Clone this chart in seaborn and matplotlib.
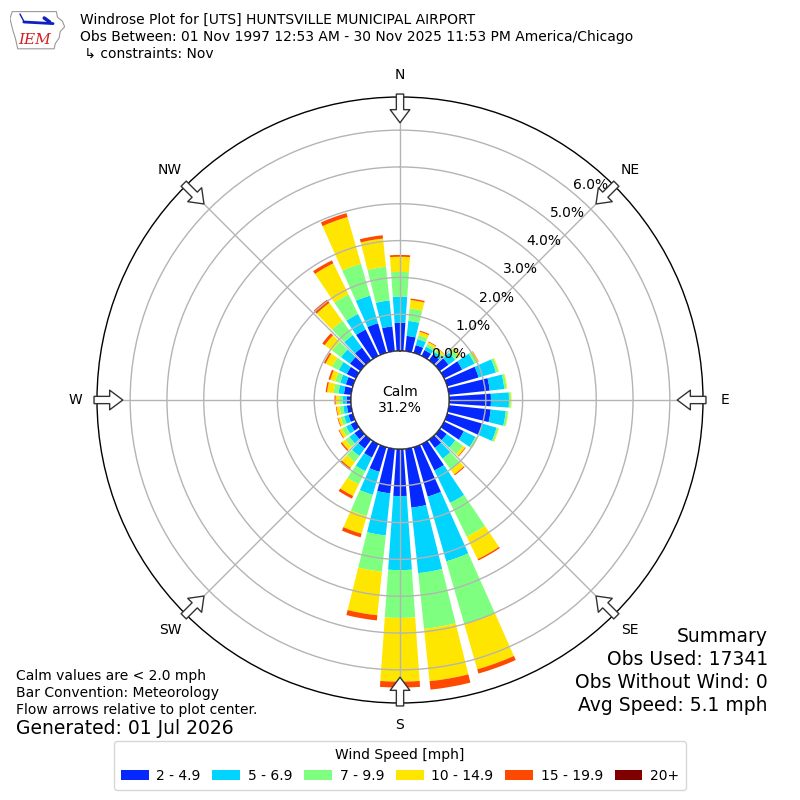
import numpy as np
import matplotlib
matplotlib.use("Agg")
import matplotlib.pyplot as plt
from matplotlib.patches import Circle, Polygon
import seaborn as sns

# direction the wind blows from (deg), 10 degree sectors
directions = list(range(0, 360, 10))

# percent of all observations per speed bin and direction
speed_2_5 = [0.77, 0.42, 0.22, 0.18, 0.20, 0.30, 0.55, 0.89, 1.12, 1.14, 1.15, 0.99,
             0.60, 0.24, 0.28, 0.80, 1.40, 1.61, 1.28, 1.22, 0.70, 0.41, 0.30, 0.20,
             0.16, 0.13, 0.12, 0.12, 0.20, 0.20, 0.28, 0.35, 0.43, 0.80, 0.84, 0.68]
speed_5_7 = [0.71, 0.41, 0.17, 0.10, 0.08, 0.22, 0.37, 0.49, 0.40, 0.49, 0.41, 0.41,
             0.35, 0.29, 0.36, 0.98, 1.83, 1.79, 2.01, 1.15, 0.65, 0.41, 0.25, 0.17,
             0.14, 0.12, 0.10, 0.10, 0.15, 0.16, 0.24, 0.30, 0.42, 0.47, 0.78, 0.71]
speed_7_10 = [0.67, 0.34, 0.11, 0.08, 0.06, 0.13, 0.08, 0.07, 0.06, 0.05, 0.06, 0.05,
              0.05, 0.26, 0.38, 1.02, 1.77, 1.52, 1.30, 0.99, 0.60, 0.40, 0.20, 0.13,
              0.12, 0.10, 0.10, 0.10, 0.13, 0.14, 0.20, 0.30, 0.48, 0.59, 0.90, 0.92]
speed_10_15 = [0.41, 0.23, 0.10, 0.06, 0.06, 0.05, 0.04, 0.02, 0.02, 0.02, 0.01, 0.02,
               0.02, 0.07, 0.15, 0.68, 1.28, 1.43, 1.73, 1.19, 0.50, 0.35, 0.20, 0.12,
               0.09, 0.07, 0.08, 0.10, 0.18, 0.14, 0.20, 0.25, 0.60, 0.94, 1.32, 0.77]
speed_15_20 = [0.05, 0.04, 0.03, 0.02, 0.01, 0.01, 0.01, 0.00, 0.00, 0.00, 0.00, 0.00,
               0.00, 0.02, 0.03, 0.04, 0.12, 0.23, 0.16, 0.14, 0.10, 0.08, 0.06, 0.04,
               0.02, 0.02, 0.02, 0.03, 0.04, 0.05, 0.05, 0.08, 0.11, 0.09, 0.11, 0.09]
speed_20_up = [0.0] * 36

bin_labels = ["2 - 4.9", "5 - 6.9", "7 - 9.9", "10 - 14.9", "15 - 19.9", "20+"]
bin_colors = ["#0528ff", "#00d4ff", "#7fff7f", "#ffe600", "#ff4800", "#800000"]

calm_pct = 31.2
ring_ticks = [0, 1, 2, 3, 4, 5, 6]
compass = ["N", "NE", "E", "SE", "S", "SW", "W", "NW"]

title_lines = [
    "Windrose Plot for [UTS] HUNTSVILLE MUNICIPAL AIRPORT",
    "Obs Between: 01 Nov 1997 12:53 AM - 30 Nov 2025 11:53 PM America/Chicago",
    " \u21b3 constraints: Nov",
]
notes = ["Calm values are < 2.0 mph", "Bar Convention: Meteorology",
         "Flow arrows relative to plot center."]
generated = "Generated: 01 Jul 2026"
summary = ["Summary", "Obs Used: 17341", "Obs Without Wind: 0", "Avg Speed: 5.1 mph"]


def main():
    sns.set_style("white")
    plt.rcParams["font.family"] = ["DejaVu Sans"]
    plt.rcParams["text.color"] = "black"
    palette = sns.color_palette(bin_colors)

    fig = plt.figure(figsize=(8, 8), dpi=100)
    ax = fig.add_axes([97 / 800, 97 / 800, 606 / 800, 606 / 800], projection="polar")
    ax.set_theta_zero_location("N")
    ax.set_theta_direction(-1)

    rmax = 6.9
    rorigin = -1.33
    ax.set_rorigin(rorigin)
    ax.set_ylim(0, rmax)

    theta = np.radians(directions)
    width = np.radians(8)
    bins = [speed_2_5, speed_5_7, speed_7_10, speed_10_15, speed_15_20, speed_20_up]
    bottom = np.zeros(len(directions))
    handles = []
    for vals, lab, col in zip(bins, bin_labels, palette):
        vals = np.array(vals)
        bc = ax.bar(theta, vals, width=width, bottom=bottom, color=col,
                    linewidth=0, label=lab, zorder=2)
        handles.append(bc)
        bottom = bottom + vals

    # grid on top of bars
    ax.set_axisbelow(False)
    ax.set_rticks(ring_ticks)
    ax.set_yticklabels([])
    ax.set_xticks(np.radians(np.arange(0, 360, 45)))
    ax.set_xticklabels([])
    ax.grid(True, color="#b4b4b4", linewidth=1.0)
    ax.spines["polar"].set_color("black")
    ax.spines["polar"].set_linewidth(1.0)

    # calm circle
    calm_r = (0 - rorigin) / (rmax - rorigin) * 0.5
    ax.add_patch(Circle((0.5, 0.5), calm_r, transform=ax.transAxes,
                        facecolor="white", edgecolor="black", linewidth=1.0,
                        zorder=3))
    ax.text(0.5, 0.5, f"Calm\n{calm_pct:.1f}%", transform=ax.transAxes,
            ha="center", va="center", fontsize=10, zorder=4, linespacing=1.2)

    # ring labels
    for v in ring_ticks:
        ax.annotate(f"{v:.1f}%", xy=(np.radians(40), v), xytext=(0, 1),
                    textcoords="offset points", ha="left", va="bottom",
                    fontsize=10, zorder=5)

    # compass labels and flow arrows
    for i, lab in enumerate(compass):
        ang = np.radians(i * 45)
        ax.text(ang, 7.5, lab, ha="center", va="center", fontsize=10,
                clip_on=False)
        ax.annotate("", xy=(ang, 6.2), xytext=(ang, 6.98),
                    arrowprops=dict(arrowstyle="simple,head_length=0.9,head_width=1.35,tail_width=0.5",
                                    mutation_scale=10.5, fc="white", ec="#333333",
                                    lw=1.0, shrinkA=0, shrinkB=0),
                    annotation_clip=False, zorder=6)

    # header
    for k, line in enumerate(title_lines):
        fig.text(80 / 800, 1 - (20 + 17 * k) / 800, line, ha="left", va="center",
                 fontsize=10)

    # logo
    lg = fig.add_axes([0.0125, 0.9375, 0.069, 0.05])
    lg.set_xlim(0, 1)
    lg.set_ylim(0, 1)
    lg.axis("off")
    outline = [(0.04, 0.96), (0.84, 0.96), (0.86, 0.82), (0.95, 0.72), (0.99, 0.58),
               (0.91, 0.46), (0.89, 0.30), (0.82, 0.16), (0.80, 0.03), (0.14, 0.03),
               (0.10, 0.28), (0.05, 0.50), (0.00, 0.78)]
    lg.add_patch(Polygon(outline, closed=True, fill=False, edgecolor="#999999",
                         linewidth=0.8))
    lg.plot([0.25, 0.78], [0.70, 0.66], color="#1020c0", linewidth=2)
    lg.plot([0.62, 0.72], [0.80, 0.70], color="#1020c0", linewidth=2.5)
    lg.plot([0.18, 0.25], [0.90, 0.72], color="#1020c0", linewidth=1)
    lg.text(0.45, 0.24, "IEM", ha="center", va="center", color="#d02020",
            fontsize=11, family="DejaVu Serif", style="italic")

    # bottom-left notes
    for k, line in enumerate(notes):
        fig.text(16 / 800, 1 - (676 + 17 * k) / 800, line, ha="left", va="center",
                 fontsize=10)
    fig.text(16 / 800, 1 - 729 / 800, generated, ha="left", va="center",
             fontsize=13.5)

    # summary
    for k, line in enumerate(summary):
        fig.text(768 / 800, 1 - (636 + 23.3 * k) / 800, line, ha="right",
                 va="center", fontsize=13.5)

    leg = fig.legend(handles=handles, labels=bin_labels, loc="lower center",
                     bbox_to_anchor=(0.5, 0.004), ncol=6, title="Wind Speed [mph]",
                     fontsize=10, title_fontsize=10, frameon=True,
                     handlelength=2.0, handleheight=0.7, columnspacing=0.85,
                     handletextpad=0.55, borderpad=0.5)
    leg.get_frame().set_edgecolor("#cccccc")

    fig.savefig("out.png", dpi=100)


if __name__ == "__main__":
    main()
